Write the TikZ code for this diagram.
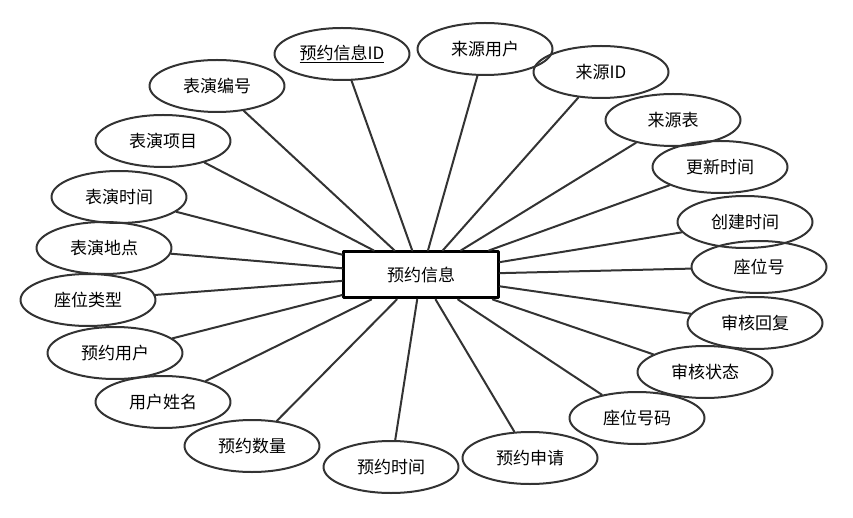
\documentclass[tikz,border=0pt]{standalone}
\usepackage{fontspec}
\setmainfont{Noto Sans CJK SC}
\usetikzlibrary{shapes.geometric}
\definecolor{ink}{HTML}{333333}

\begin{document}
\begin{tikzpicture}[x=1pt, y=-1pt, line cap=round, line join=round,
  attr/.style={ellipse, draw=ink, line width=2pt, minimum width=135pt,
    minimum height=52pt, inner sep=0pt, font=\fontsize{17}{20}\selectfont},
  entity/.style={draw=black, line width=3pt, minimum width=155pt,
    minimum height=46pt, inner sep=0pt, font=\fontsize{17}{20}\selectfont},
  link/.style={draw=ink, line width=2pt}]

\useasboundingbox (0,0) rectangle (853,518);

% ---------- Entity ----------
\node[entity] (yuyue) at (421,275) {预约信息};

% ---------- Attributes, left and bottom ----------
\node[attr] (id)   at (342,54)  {\underline{预约信息ID}};
\node[attr] (bybh) at (217,86)  {表演编号};
\node[attr] (byxm) at (163,141) {表演项目};
\node[attr] (bysj) at (119,197) {表演时间};
\node[attr] (bydd) at (104,248) {表演地点};
\node[attr] (zwlx) at (88,300)  {座位类型};
\node[attr] (yyyh) at (115,353) {预约用户};
\node[attr] (yhxm) at (163,402) {用户姓名};
\node[attr] (yysl) at (252,446) {预约数量};
\node[attr] (yysj) at (391,467) {预约时间};

% ---------- Attributes, right ----------
\node[attr] (yysq) at (530,458) {预约申请};
\node[attr] (zwhm) at (637,418) {座位号码};
\node[attr] (shzt) at (705,372) {审核状态};
\node[attr] (shhf) at (755,323) {审核回复};
\node[attr] (zwh)  at (759,267) {座位号};
\node[attr] (cjsj) at (745,222) {创建时间};
\node[attr] (gxsj) at (720,167) {更新时间};
\node[attr] (lyb)  at (673,120) {来源表};
\node[attr] (lyid) at (601,72)  {来源ID};
\node[attr] (lyyh) at (485,49)  {来源用户};

% ---------- Links ----------
\foreach \a in {id,bybh,byxm,bysj,bydd,zwlx,yyyh,yhxm,yysl,yysj,
                yysq,zwhm,shzt,shhf,zwh,cjsj,gxsj,lyb,lyid,lyyh}
  \draw[link] (yuyue) -- (\a);

\end{tikzpicture}
\end{document}
